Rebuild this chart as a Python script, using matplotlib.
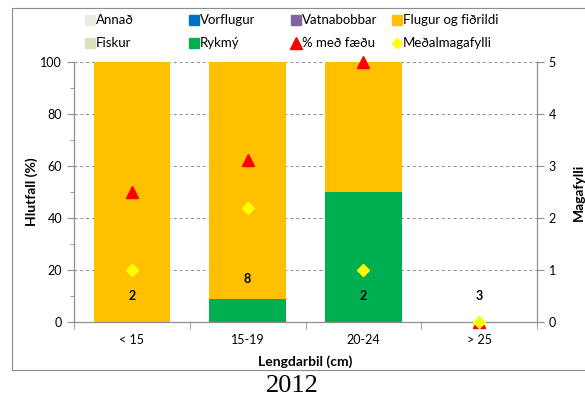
import numpy as np
import matplotlib
matplotlib.use("Agg")
import matplotlib.pyplot as plt
from matplotlib.patches import Rectangle

plt.rcParams['font.family'] = ['Lato', 'DejaVu Sans']

# Lengdarbil og hlutföll fæðuhópa (%)
flokkar = ['< 15', '15-19', '20-24', '> 25']
annad = [0, 0, 0, 0]
fiskur = [0, 0, 0, 0]
vorflugur = [0, 0, 0, 0]
rykmy = [0, 9, 50, 0]
vatnabobbar = [0, 0, 0, 0]
flugur = [100, 91, 50, 0]

# % með fæðu (vinstri ás) og meðalmagafylli (hægri ás)
med_faedu = [50, 62.5, 100, 0]
magafylli = [1.0, 2.2, 1.0, 0.0]

# fjöldi fiska í hverju bili og hæð merkis
fjoldi = ['2', '8', '2', '3']
fjoldi_y = [10, 16.5, 10, 10]

litir = {
    'Annað': '#EEECE1',
    'Fiskur': '#D7E4BD',
    'Vorflugur': '#0070C0',
    'Rykmý': '#00B050',
    'Vatnabobbar': '#8064A2',
    'Flugur og fiðrildi': '#FFC000',
}
RAUTT = '#FF0000'
GULT = '#FFFF00'
GRATT = '#8c8c8c'

fig = plt.figure(figsize=(5.85, 4.0), dpi=100)
fig.patches.append(Rectangle((12 / 585, 1 - 370 / 400), 1, 362 / 400,
                             transform=fig.transFigure, fill=False,
                             edgecolor=GRATT, linewidth=0.8))

ax = fig.add_axes([74 / 585, 1 - 322 / 400, 463 / 585, 260 / 400])
x = np.arange(len(flokkar))
w = 0.66

botn = np.zeros(len(flokkar))
for nafn, gildi in [('Annað', annad), ('Fiskur', fiskur), ('Vorflugur', vorflugur),
                    ('Rykmý', rykmy), ('Vatnabobbar', vatnabobbar),
                    ('Flugur og fiðrildi', flugur)]:
    gildi = np.array(gildi, dtype=float)
    ax.bar(x, gildi, w, bottom=botn, color=litir[nafn], zorder=2)
    botn += gildi

ax.plot(x, med_faedu, linestyle='none', marker='^', color=RAUTT,
        markersize=9, zorder=4, clip_on=False)

for xi, t, yi in zip(x, fjoldi, fjoldi_y):
    ax.text(xi, yi, t, ha='center', va='center', fontsize=9, fontweight='bold', zorder=5)

ax.set_xlim(-0.5, 3.5)
ax.set_ylim(0, 100)
ax.set_yticks([0, 20, 40, 60, 80, 100])
ax.set_yticks([10, 30, 50, 70, 90], minor=True)
ax.grid(axis='y', linestyle=(0, (3, 3)), color=GRATT, linewidth=0.7, zorder=0)
ax.tick_params(axis='y', which='both', direction='out', color=GRATT, labelsize=9)
ax.tick_params(axis='y', which='major', length=5)
ax.tick_params(axis='y', which='minor', length=3)

ax.set_xticks(x)
ax.set_xticklabels(flokkar, fontsize=9)
ax.tick_params(axis='x', which='major', length=0, pad=9)
ax.set_xticks(np.arange(-0.5, 4.0, 1.0), minor=True)
ax.tick_params(axis='x', which='minor', length=5, color=GRATT)

ax.spines['top'].set_visible(False)
for s in ['left', 'bottom', 'right']:
    ax.spines[s].set_color(GRATT)

ax.set_ylabel('Hlutfall (%)', fontsize=10, fontweight='bold', labelpad=2)
ax.set_xlabel('Lengdarbil (cm)', fontsize=10, fontweight='bold', labelpad=6)

ax2 = ax.twinx()
ax2.set_ylim(0, 5)
ax2.set_yticks(range(6))
ax2.tick_params(axis='y', direction='out', length=5, color=GRATT, labelsize=9)
ax2.spines['top'].set_visible(False)
for s in ['left', 'bottom', 'right']:
    ax2.spines[s].set_color(GRATT)
ax2.plot(x, magafylli, linestyle='none', marker='D', color=GULT,
         markersize=6, zorder=5, clip_on=False)
ax2.set_ylabel('Magafylli', fontsize=10, fontweight='bold', labelpad=12)

# skýring í tveimur röðum, jafnt bil milli dálka
leg = fig.add_axes([0, 0, 1, 1], facecolor='none')
leg.set_xlim(0, 585)
leg.set_ylim(400, 0)
leg.axis('off')
skyring = [
    [('s', litir['Annað'], 'Annað'), ('s', litir['Vorflugur'], 'Vorflugur'),
     ('s', litir['Vatnabobbar'], 'Vatnabobbar'), ('s', litir['Flugur og fiðrildi'], 'Flugur og fiðrildi')],
    [('s', litir['Fiskur'], 'Fiskur'), ('s', litir['Rykmý'], 'Rykmý'),
     ('^', RAUTT, '% með fæðu'), ('D', GULT, 'Meðalmagafylli')],
]
dalkar = [90, 194, 296, 397]
radir = [20, 43]
for ry, rod in zip(radir, skyring):
    for dx, (mk, lit, texti) in zip(dalkar, rod):
        ms = {'s': 6.5, '^': 8, 'D': 5}[mk]
        leg.plot([dx], [ry], linestyle='none', marker=mk, color=lit, markersize=ms)
        leg.text(dx + 6, ry, texti, ha='left', va='center', fontsize=9.5)

fig.text(0.5, 1 - 386 / 400, '2012', ha='center', va='center', fontsize=19,
         family=['Liberation Serif', 'DejaVu Serif'])

fig.savefig('out.png', dpi=100)
